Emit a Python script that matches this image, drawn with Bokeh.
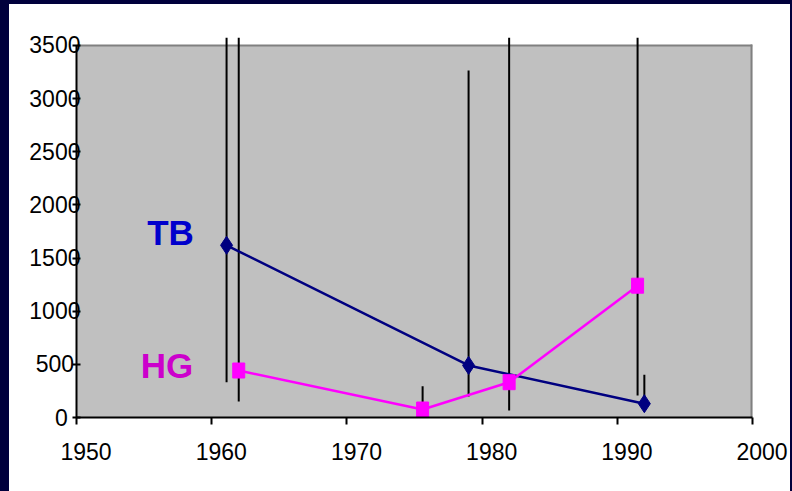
from bokeh.plotting import figure
from bokeh.models import Range1d, FixedTicker, ColumnDataSource
from bokeh.core.properties import value
from bokeh.embed import file_html
from bokeh.resources import INLINE

# ---- data ----
tb_year = [1961.1, 1979.0, 1992.0]
tb_value = [1620, 490, 130]
tb_low = [332, 198, 130]
tb_high = [3575, 3265, 402]

hg_year = [1962.0, 1975.6, 1982.0, 1991.5]
hg_value = [442, 75, 332, 1240]
hg_low = [150, 0, 66, 207]
hg_high = [3575, 295, 3575, 3575]

x_ticks = [1950, 1960, 1970, 1980, 1990, 2000]
y_ticks = [0, 500, 1000, 1500, 2000, 2500, 3000, 3500]

series_names = ["TB", "HG"]
series_label_x = [1956.95, 1956.7]
series_label_y = [1736, 489]

FONT = "Liberation Sans"
NB = "\u00a0"

p = figure(width=781, height=487, output_backend="svg", toolbar_location=None,
           x_range=Range1d(1950, 2000), y_range=Range1d(0, 3575),
           min_border_left=67, min_border_right=38, min_border_top=33,
           min_border_bottom=74)
p.styles = {"margin-left": "9px", "margin-top": "4px", "background-color": "white"}
p.outline_line_color = None
p.background_fill_color = "white"
p.border_fill_color = "white"
p.grid.visible = False

# plot area (grey) with its border
p.quad(left=[x_ticks[0]], right=[x_ticks[-1]], bottom=[y_ticks[0]], top=[y_ticks[-1]],
       fill_color="#C0C0C0", line_color=None)
p.line(x=[x_ticks[0], x_ticks[-1]], y=[y_ticks[-1], y_ticks[-1]],
       line_color="#808080", line_width=2)
p.line(x=[x_ticks[-1], x_ticks[-1]], y=[y_ticks[-1] + 8, y_ticks[0]],
       line_color="#808080", line_width=4)

# error bars
p.segment(x0=tb_year, y0=tb_low, x1=tb_year, y1=tb_high, line_color="black", line_width=2)
p.segment(x0=hg_year, y0=hg_low, x1=hg_year, y1=hg_high, line_color="black", line_width=2)

# series
p.line(tb_year, tb_value, line_color="#000080", line_width=2.5)
p.scatter(tb_year, tb_value, marker="diamond", size=18, fill_color="#000080",
          line_color="#000080")
p.line(hg_year, hg_value, line_color="#FF00FF", line_width=2.5)
p.rect(hg_year, hg_value, width=12, height=15, width_units="screen", height_units="screen",
       fill_color="#FF00FF", line_color="#FF00FF")

# series labels
src = ColumnDataSource(dict(x=series_label_x, y=series_label_y, t=series_names,
                            c=["#0000CC", "#CC00CC"]))
p.text(x="x", y="y", text="t", source=src, text_color="c", text_align="center",
       text_baseline="middle", text_font=value(FONT), text_font_style="bold",
       text_font_size="35px")

# axes
xa = p.xaxis[0]
xa.ticker = FixedTicker(ticks=x_ticks)
xa.bounds = (x_ticks[0], x_ticks[-1])
xa.axis_line_color = "black"
xa.axis_line_width = 2
xa.major_tick_line_width = 2
xa.major_tick_in = 0
xa.major_tick_out = 7
xa.minor_tick_line_color = None
xa.major_label_text_font = FONT
xa.major_label_text_font_size = "23px"
xa.major_label_text_color = "black"
xa.major_label_standoff = 14
xa.major_label_overrides = {t: NB * 3 + str(t) for t in x_ticks}

ya = p.yaxis[0]
ya.ticker = FixedTicker(ticks=y_ticks)
ya.bounds = (y_ticks[0], y_ticks[-1])
ya.axis_line_color = "black"
ya.axis_line_width = 2
ya.major_tick_line_width = 2
ya.major_tick_in = 4
ya.major_tick_out = 4
ya.minor_tick_line_color = None
ya.major_label_text_font = FONT
ya.major_label_text_font_size = "23px"
ya.major_label_text_color = "black"
ya.major_label_standoff = -8
ya.major_label_overrides = {t: str(t) + NB * {1: 2, 3: 1, 4: 0}[len(str(t))] for t in y_ticks}

html = file_html(p, INLINE)
html = html.replace("</head>", "<style>html, body { background-color: #00003C; }</style></head>", 1)
open("out.html", "w").write(html)
